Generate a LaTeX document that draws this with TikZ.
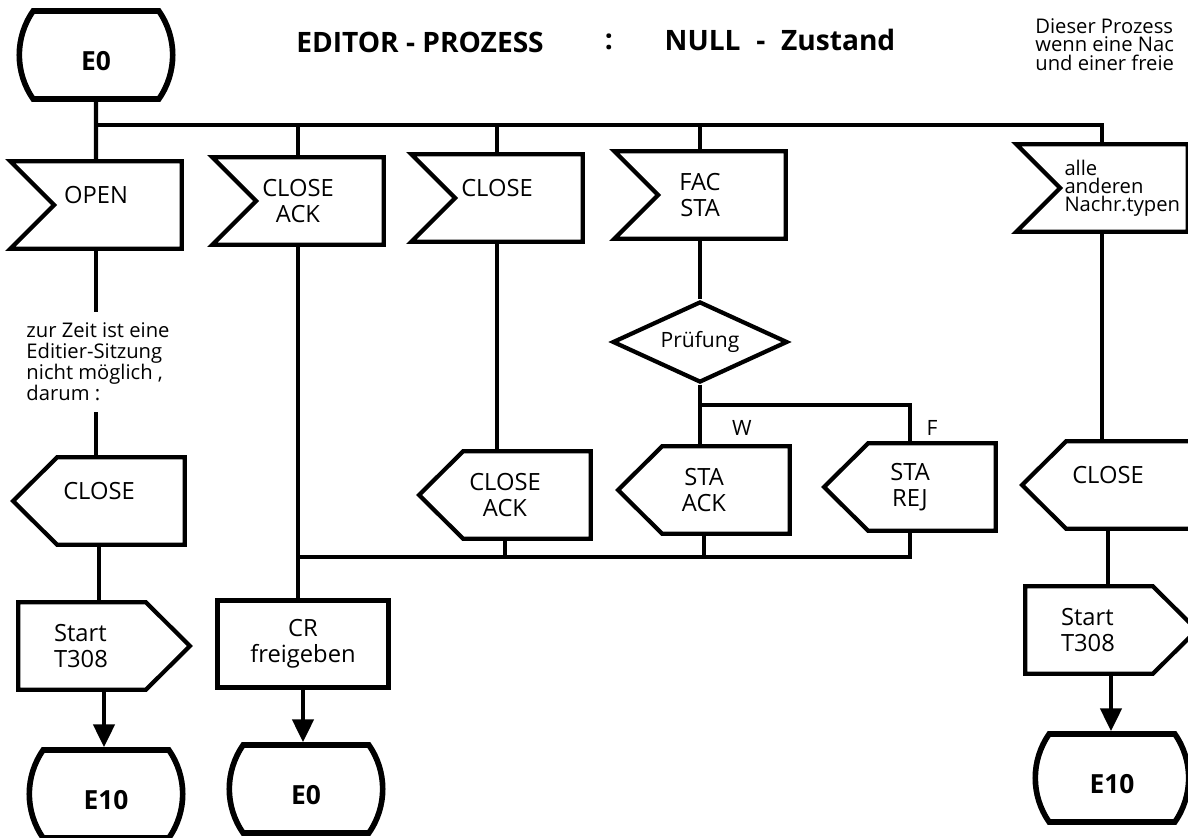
\documentclass[tikz,border=0pt]{standalone}
\usepackage{fontspec}
\setmainfont{Open Sans}
\usetikzlibrary{shapes.geometric,shapes.misc,arrows.meta}

\newcommand\lblfont{\fontsize{13.5}{15}\selectfont}
\newcommand\smallfont{\fontsize{11.5}{12}\selectfont}
\newcommand\statefont{\fontsize{15}{17}\selectfont\bfseries}
\newcommand\titlefont{\fontsize{16}{18}\selectfont\bfseries}
\def\tipl{0.88cm}

\tikzset{
  flow/.style={line width=2.4pt},
  arr/.style={flow, -{Triangle[length=13pt,width=12pt]}},
  shapeline/.style={line width=2.4pt, line join=miter},
  box/.style={rectangle, inner sep=0pt, minimum width=3.42cm, minimum height=1.74cm, align=center, font=\lblfont},
  oneline/.style={text depth=0.4cm},
  timerbox/.style={box, align=left, text width=2cm},
  taskbox/.style={box, draw, line width=2.4pt},
  statebox/.style={rounded rectangle, rounded rectangle arc length=70, draw, line width=3.2pt, minimum width=3.2cm, minimum height=1.76cm, text height=0.62cm, text depth=0cm, font=\statefont},
  decide/.style={diamond, draw, line width=2.4pt, aspect=2.2, inner sep=0pt, minimum width=3.5cm, minimum height=1.62cm, font={\fontsize{12}{14}\selectfont}},
  notetext/.style={align=left, inner xsep=0pt, inner ysep=6pt, font=\smallfont},
  branch/.style={font={\fontsize{12}{14}\selectfont}}
}

\newcommand\inflag[1]{\draw[shapeline] (#1.north west) -- (#1.north east) -- (#1.south east) -- (#1.south west) -- ([xshift=\tipl]#1.west) -- cycle;}
\newcommand\outflag[1]{\draw[shapeline] (#1.north east) -- (#1.south east) -- ([xshift=\tipl]#1.south west) -- (#1.west) -- ([xshift=\tipl]#1.north west) -- cycle;}
\newcommand\timerflag[1]{\draw[shapeline] (#1.north west) -- ([xshift=-\tipl]#1.north east) -- (#1.east) -- ([xshift=-\tipl]#1.south east) -- (#1.south west) -- cycle;}

\begin{document}
\begin{tikzpicture}[x=0.02cm, y=-0.02cm]
\clip (0,0) rectangle (1188,838);

\node[font=\titlefont] (title) at (420,42) {EDITOR - PROZESS};
\node[font=\titlefont] (colon) at (609,42) {:};
\node[font=\titlefont] (zust) at (780,40) {NULL\hspace{0.3em} - \hspace{0.3em}Zustand};
\node[anchor=north west, align=left, inner sep=0pt, font={\fontsize{11.5}{10.6}\selectfont}] (info) at (1035,18) {Dieser Prozess\\wenn eine Nac\\und einer freie};

\node[statebox] (e0a) at (96,55) {E0};
\node[box, oneline] (open) at (96,205) {OPEN};
\node[box] (closeackin) at (298,201) {CLOSE\\ACK};
\node[box, oneline] (closein) at (497,198) {CLOSE};
\node[box] (facsta) at (700,195) {FAC\\STA};
\node[box, align=left, text width=1.5cm, font={\fontsize{11.5}{10.3}\selectfont}] (alle) at (1102,188) {alle\\anderen\\Nachr.typen};

\node[notetext] (hint) at (98,362) {zur Zeit ist eine\\Editier-Sitzung\\nicht möglich ,\\darum :};
\node[box, oneline] (closeout1) at (99,501) {CLOSE};
\node[timerbox] (timer1) at (104,646) {Start\\T308};
\node[statebox] (e10a) at (106,794) {E10};

\node[taskbox] (cr) at (303,644) {CR\\freigeben};
\node[statebox] (e0b) at (306,789) {E0};

\node[box] (closeackout) at (505,495) {CLOSE\\ACK};
\node[decide] (chk) at (700,342) {Prüfung};
\node[box] (staack) at (704,490) {STA\\ACK};
\node[box] (starej) at (910,487) {STA\\REJ};
\node[branch] (w) at (742,428) {W};
\node[branch] (f) at (932,428) {F};

\node[box, oneline] (closeout5) at (1108,485) {CLOSE};
\node[timerbox] (timer5) at (1111,630) {Start\\T308};
\node[statebox] (e10b) at (1112,778) {E10};

\foreach \n in {open,closeackin,closein,facsta,alle} {\inflag{\n}}
\foreach \n in {closeout1,closeackout,staack,starej,closeout5} {\outflag{\n}}
\foreach \n in {timer1,timer5} {\timerflag{\n}}

\coordinate (tb) at (0,125);
\coordinate (bb) at (0,557);
\coordinate (fork) at (0,405);

\draw[flow] (e0a) -- (open);
\draw[flow] (open.north |- tb) -| (alle.north);
\foreach \n in {closeackin,closein,facsta} {\draw[flow] (\n.north |- tb) -- (\n.north);}

\draw[flow] (open.south) -- (open.south |- hint.north);
\draw[flow] (open.south |- hint.south) -- (open.south |- closeout1.north);
\draw[flow] (closeout1.south) -- (closeout1.south |- timer1.north);
\draw[arr] (timer1.south) -- (timer1.south |- e10a.north);

\draw[flow] (closeackin.south) -- (closeackin.south |- cr.north);
\draw[arr] (cr.south) -- (cr.south |- e0b.north);
\draw[flow] (closeackin.south |- bb) -| (starej.south);

\draw[flow] (closein.south) -- (closein.south |- closeackout.north);
\draw[flow] (closeackout.south) -- (closeackout.south |- bb);

\draw[flow] (facsta.south) -- (facsta.south |- chk.north);
\draw[flow] (chk.south) -- (chk.south |- staack.north);
\draw[flow] (chk.south |- fork) -| (starej.north);
\draw[flow] (staack.south) -- (staack.south |- bb);

\draw[flow] (alle.south) -- (alle.south |- closeout5.north);
\draw[flow] (closeout5.south) -- (closeout5.south |- timer5.north);
\draw[arr] (timer5.south) -- (timer5.south |- e10b.north);
\end{tikzpicture}
\end{document}
